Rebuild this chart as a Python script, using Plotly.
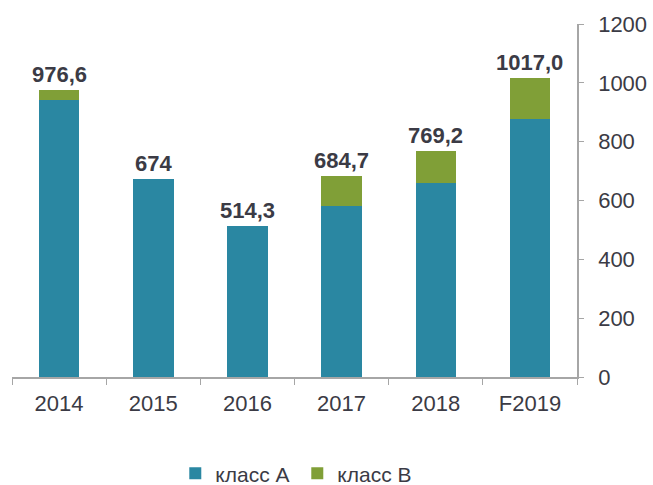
import plotly.graph_objects as go

# Categories and values
years = ["2014", "2015", "2016", "2017", "2018", "F2019"]
totals = [976.6, 674.0, 514.3, 684.7, 769.2, 1017.0]
class_a = [942.0, 674.0, 514.3, 583.0, 661.0, 877.0]
class_b = [round(t - a, 1) for t, a in zip(totals, class_a)]
total_labels = ["976,6", "674", "514,3", "684,7", "769,2", "1017,0"]
y_ticks = [0, 200, 400, 600, 800, 1000, 1200]

TEAL = "#2a87a2"
GREEN = "#809f37"
AXIS_GRAY = "#a6a6a6"
TEXT = "#3b3b45"
FONT = "Liberation Sans, Arial, sans-serif"

fig = go.Figure()
fig.add_trace(go.Bar(x=years, y=class_a, name="класс A", marker_color=TEAL,
                     marker_line_width=0))
fig.add_trace(go.Bar(x=years, y=class_b, name="класс B", marker_color=GREEN,
                     marker_line_width=0))

# Total labels above each stacked bar (x given as category index)
for i, (tot, lab) in enumerate(zip(totals, total_labels)):
    fig.add_annotation(x=i, y=tot, text=f"<b>{lab}</b>", showarrow=False,
                       yanchor="bottom", yshift=1,
                       font=dict(family=FONT, size=22, color=TEXT))

fig.update_layout(
    width=653, height=485,
    margin=dict(l=12, r=76, t=24, b=108, autoexpand=False),
    barmode="stack", bargap=0.57,
    plot_bgcolor="white", paper_bgcolor="white",
    font=dict(family=FONT, size=22, color=TEXT),
    showlegend=True,
    legend=dict(orientation="h", x=0.289, xanchor="left", y=-0.274, yanchor="middle",
                font=dict(family=FONT, size=21, color=TEXT),
                itemwidth=30, entrywidth=77, traceorder="normal"),
)
fig.update_xaxes(
    type="category", categoryorder="array", categoryarray=years,
    range=[-0.5, 5.5], automargin=False,
    showline=True, linecolor=AXIS_GRAY, linewidth=1.5,
    ticks="outside", tickson="boundaries", ticklen=6, tickcolor=AXIS_GRAY,
    ticklabelstandoff=6,
    showgrid=False, tickangle=0, tickfont=dict(size=22, color=TEXT),
)
fig.update_yaxes(
    side="right", range=[0, 1200], tickvals=y_ticks, automargin=False,
    showline=True, linecolor=AXIS_GRAY, linewidth=1.5,
    ticks="outside", ticklen=5, tickcolor=AXIS_GRAY, ticklabelstandoff=10,
    showgrid=False, zeroline=False, tickfont=dict(size=22, color=TEXT),
)

fig.write_html("out.html")
